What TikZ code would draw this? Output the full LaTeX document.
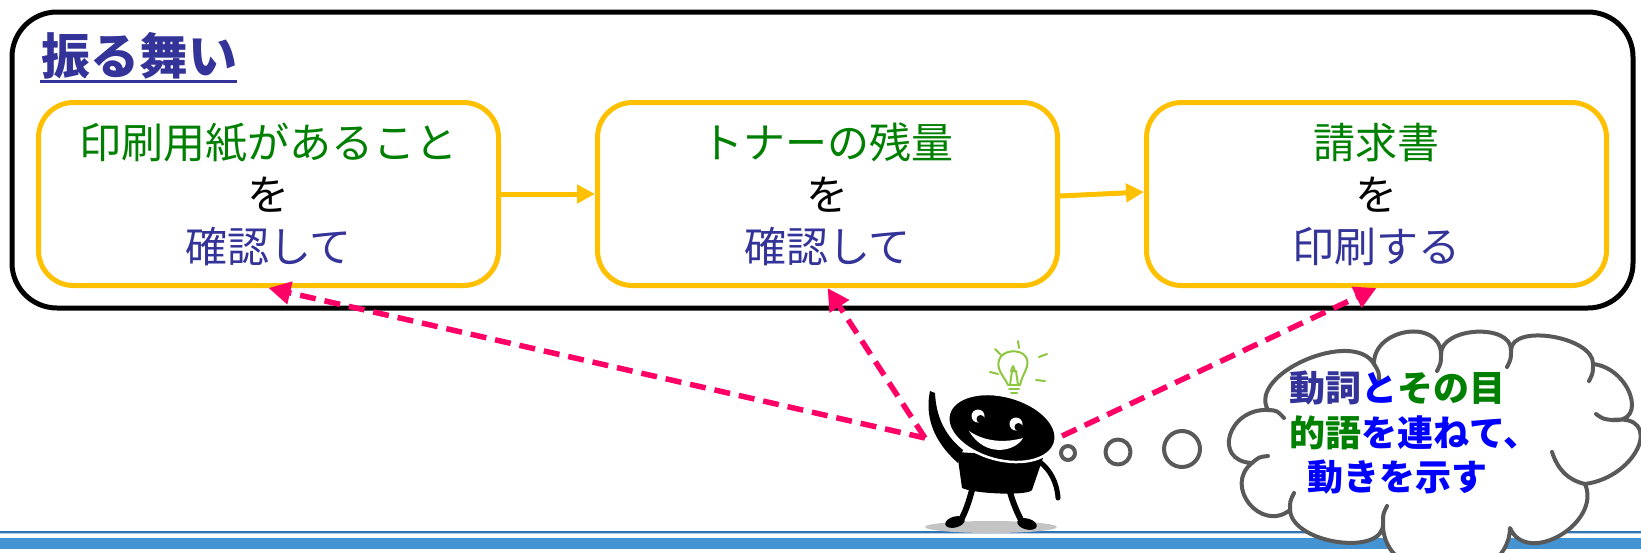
\documentclass[tikz,border=0pt]{standalone}
\usepackage{fontspec}
\newfontfamily\jp{Noto Sans CJK JP}
\usetikzlibrary{arrows.meta,calc}

\definecolor{gold}{HTML}{FFC000}
\definecolor{pinkc}{HTML}{FF0066}
\definecolor{darkblue}{HTML}{333399}
\definecolor{greenc}{HTML}{008000}
\definecolor{bluec}{HTML}{0000FF}
\definecolor{cloudgray}{HTML}{595959}
\definecolor{bulbgreen}{HTML}{8DC63F}
\definecolor{bandblue}{HTML}{4493D2}
\definecolor{lineblue}{HTML}{2E75B6}
\definecolor{shadowgray}{HTML}{C4C4C4}

\begin{document}
\begin{tikzpicture}[x=1pt,y=-1pt,
  frame/.style={draw=black, line width=5pt, rounded corners=45pt},
  stepbox/.style={draw=gold, line width=5pt, rounded corners=35pt, fill=white,
    minimum width=460pt, minimum height=183pt, align=center, inner sep=0pt,
    font=\jp\fontsize{42}{52}\selectfont},
  flow/.style={draw=gold, line width=5pt, -{Triangle[length=18pt,width=18pt]}},
  link/.style={draw=pinkc, line width=5.5pt, dash pattern=on 16pt off 9pt,
    -{Triangle[length=22pt,width=22pt]}},
  bubble/.style={draw=cloudgray, line width=4pt, fill=white, line join=round},
  curl/.style={draw=cloudgray, line width=4pt, line cap=round},
  cloudtext/.style={anchor=west, inner sep=0pt, font=\jp\bfseries\fontsize{36}{45}\selectfont},
]
\useasboundingbox (0,0) rectangle (1641,552);

% footer rules
\draw[lineblue, line width=2pt] (0,531.5) -- (1641,531.5);
\draw[lineblue!35, line width=1pt] (0,533.5) -- (1641,533.5);
\fill[bandblue] (0,538) rectangle (1641,549);

% behaviour frame and title
\draw[frame] (12,12) rectangle (1633,308);
\node[anchor=base west, inner sep=0pt, text=darkblue,
      font=\jp\bfseries\fontsize{49}{49}\selectfont] (title) at (41,74) {振る舞い};
\draw[darkblue, line width=3pt] ($(title.base west)+(-1,7)$) -- ($(title.base east)+(0,7)$);

% the three steps
\node[stepbox] (box1) at (268.5,194) {\textcolor{greenc}{印刷用紙があること}\\を\\\textcolor{darkblue}{確認して}};
\node[stepbox] (box2) at (827.5,194) {\textcolor{greenc}{トナーの残量}\\を\\\textcolor{darkblue}{確認して}};
\node[stepbox] (box3) at (1376.5,194) {\textcolor{greenc}{請求書}\\を\\\textcolor{darkblue}{印刷する}};

\draw[flow] (box1.east) -- (box2.west);
\draw[flow] ([yshift=-2pt]box2.east) -- ([yshift=2pt]box3.west);

% pointers from the figure to the verbs
\coordinate (P) at (925,438);
\coordinate (Q) at (1062,436);
\draw[link] (P) -- (box1.south);
\draw[link] (P) -- (box2.south);
\draw[link] (Q) -- (box3.south);

% the little figure
\fill[shadowgray] (991,527) ellipse [x radius=66pt, y radius=6pt];
\draw[line width=6pt, line cap=round] (973,486) .. controls (970,498) and (967,508) .. (962,518);
\fill[rotate around={15:(955,522)}] (955,522) ellipse [x radius=10pt, y radius=5.5pt];
\draw[line width=6pt, line cap=round] (1010,492) .. controls (1013,503) and (1017,512) .. (1021,520);
\fill[rotate around={-15:(1027,524)}] (1027,524) ellipse [x radius=10pt, y radius=5.5pt];
\draw[line width=5pt, line cap=round] (1040,462) .. controls (1050,470) and (1057,482) .. (1058,498);
\fill (957,452) -- (1043,458) -- (1032,490) .. controls (1028,496) and (975,494) .. (962,488) -- cycle;
\fill (930,391) .. controls (925,415) and (932,440) .. (958,463) -- (963,450)
      .. controls (943,434) and (936,414) .. (935,393) -- cycle;
\fill[draw=white, line width=2.5pt, rotate around={-15:(1002,428)}] (1002,428) ellipse [x radius=55pt, y radius=32pt];
\fill[white] (978,416) circle [radius=6.5pt];
\fill (980.5,419) circle [radius=4pt];
\fill[white] (1016,424) circle [radius=6.5pt];
\fill (1018.5,427) circle [radius=4pt];
\fill[white] (969,431) .. controls (985,442) and (1005,443) .. (1023,438)
      .. controls (1015,452) and (985,458) .. cycle;

% light bulb
\begin{scope}[bulbgreen, line width=2pt, line cap=round, line join=round]
  \draw (1008,385) .. controls (1004,376) and (996,370) .. (999,360)
        .. controls (1002,350) and (1020,348) .. (1026,357)
        .. controls (1031,366) and (1022,374) .. (1020,385);
  \draw (1008,385) -- (1020,385);
  \draw (1009,389) -- (1019,389);
  \draw (1011,393) -- (1017,393);
  \draw (1010,385) -- (1012,371) -- (1016,371) -- (1018,385);
  \draw (1011,371) -- (1013,366) -- (1015,371);
  \draw (1018,341) -- (1019,348);
  \draw (995,349) -- (1001,355);
  \draw (1039,357) -- (1047,354);
  \draw (990,372) -- (998,374);
  \draw (1036,380) -- (1045,381);
\end{scope}

% thought bubbles
\draw[bubble] (1068,453) circle [radius=7pt];
\draw[bubble] (1118,452) circle [radius=12.5pt];
\draw[bubble] (1182,449) circle [radius=18pt];

% cloud: eleven puffs, clockwise from the upper left
\draw[bubble] (1268,410)
  .. controls (1247,374) and (1353,328) .. (1374,364)
  .. controls (1373,328) and (1440,318) .. (1441,354)
  .. controls (1441,327) and (1511,323) .. (1511,350)
  .. controls (1512,323) and (1594,337) .. (1593,364)
  .. controls (1630,368) and (1649,424) .. (1612,420)
  .. controls (1665,413) and (1638,477) .. (1585,484)
  .. controls (1602,523) and (1527,567) .. (1510,528)
  .. controls (1508,594) and (1381,589) .. (1383,523)
  .. controls (1385,557) and (1292,544) .. (1290,510)
  .. controls (1261,533) and (1223,486) .. (1252,463)
  .. controls (1212,461) and (1228,408) .. cycle;
% inner folds where the puffs meet
\draw[curl] (1268,410) .. controls (1277,410.5) .. (1284,418);
\draw[curl] (1374,364) .. controls (1379,372) .. (1379,381);
\draw[curl] (1441,354) .. controls (1441,363) .. (1437,371);
\draw[curl] (1511,350) .. controls (1511,359) .. (1507,367);
\draw[curl] (1593,364) .. controls (1593,373) .. (1589,381);
\draw[curl] (1612,420) .. controls (1603,419) .. (1596,414);
\draw[curl] (1585,484) .. controls (1568,480) and (1558,470) .. (1552,452);
\draw[curl] (1383,523) .. controls (1383,514) .. (1387,506);
\draw[curl] (1290,510) .. controls (1290,501) .. (1294,493);
\draw[curl] (1252,463) .. controls (1259,457) .. (1268,456);

\node[cloudtext] (c1) at (1289,388) {\textcolor{darkblue}{動詞}\textcolor{bluec}{と}\textcolor{greenc}{その目}};
\node[cloudtext] (c2) at (1289,433) {\textcolor{greenc}{的語}\textcolor{bluec}{を連ねて、}};
\node[cloudtext] (c3) at (1307,477) {\textcolor{bluec}{動きを示す}};
\end{tikzpicture}
\end{document}
